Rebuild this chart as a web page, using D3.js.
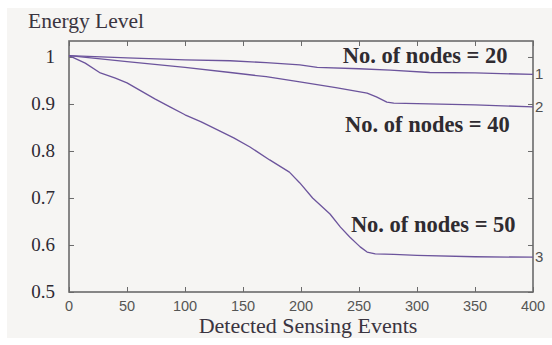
<!DOCTYPE html>
<html>
<head>
<meta charset="utf-8">
<script src="https://cdn.jsdelivr.net/npm/d3@7/dist/d3.min.js"></script>
<style>
  html, body { margin: 0; padding: 0; background: #ffffff; }
  svg { display: block; }
</style>
</head>
<body>
<svg id="chart" width="552" height="345"></svg>
<script>
// Residual energy versus detected sensing events, for three network sizes
const events20 = [0, 50, 100, 139, 170, 199, 214, 250, 277, 311, 350, 400];
const energy20 = [1.003, 0.998, 0.994, 0.992, 0.988, 0.983, 0.978, 0.975, 0.972, 0.967, 0.966, 0.963];

const events40 = [0, 50, 100, 139, 170, 199, 230, 257, 265, 274, 280, 350, 400];
const energy40 = [1.003, 0.99, 0.978, 0.967, 0.958, 0.947, 0.935, 0.923, 0.915, 0.904, 0.902, 0.898, 0.894];

const events50 = [0, 7, 14, 27, 40, 50, 62, 74, 87, 100, 114, 128, 142, 156, 173, 190, 199, 210, 225, 234, 242, 251, 257, 264, 280, 300, 350, 400];
const energy50 = [1.003, 0.995, 0.987, 0.966, 0.955, 0.945, 0.928, 0.911, 0.894, 0.877, 0.862, 0.845, 0.828, 0.8085, 0.781, 0.755, 0.732, 0.7, 0.666, 0.638, 0.617, 0.596, 0.585, 0.581, 0.58, 0.578, 0.575, 0.574];

const xTicks = [0, 50, 100, 150, 200, 250, 300, 350, 400];
const yTicks = [0.5, 0.6, 0.7, 0.8, 0.9, 1];
const yTickLabels = ["0.5", "0.6", "0.7", "0.8", "0.9", "1"];

const seriesTags = ["1", "2", "3"];
const seriesNotes = ["No. of nodes = 20", "No. of nodes = 40", "No. of nodes = 50"];

const svg = d3.select("#chart");
const W = 552, H = 345;
const m = { left: 69, right: 19, top: 41, bottom: 53 };

// page panel
svg.append("rect").attr("x", 7).attr("y", 8).attr("width", W - 7).attr("height", 330)
  .attr("fill", "#f6f5f3");

const x = d3.scaleLinear().domain([0, 400]).range([m.left, W - m.right]);
const y = d3.scaleLinear().domain([0.5, 1.034]).range([H - m.bottom, m.top]);

const axisColor = "#6b6b6b";
const lineColor = "#6c549c";

// ticks pointing inward on all four sides
const tickLen = 5;
svg.append("g").attr("transform", `translate(0,${y(0.5)})`)
  .call(d3.axisBottom(x).tickValues(xTicks).tickSizeInner(-tickLen).tickSizeOuter(0).tickFormat(""))
  .call(g => g.select(".domain").remove())
  .call(g => g.selectAll("line").attr("stroke", axisColor));
svg.append("g").attr("transform", `translate(0,${m.top})`)
  .call(d3.axisTop(x).tickValues(xTicks).tickSizeInner(-tickLen).tickSizeOuter(0).tickFormat(""))
  .call(g => g.select(".domain").remove())
  .call(g => g.selectAll("line").attr("stroke", axisColor));
svg.append("g").attr("transform", `translate(${m.left},0)`)
  .call(d3.axisLeft(y).tickValues(yTicks).tickSizeInner(-tickLen).tickSizeOuter(0).tickFormat(""))
  .call(g => g.select(".domain").remove())
  .call(g => g.selectAll("line").attr("stroke", axisColor));
svg.append("g").attr("transform", `translate(${W - m.right},0)`)
  .call(d3.axisRight(y).tickValues(yTicks).tickSizeInner(-tickLen).tickSizeOuter(0).tickFormat(""))
  .call(g => g.select(".domain").remove())
  .call(g => g.selectAll("line").attr("stroke", axisColor));

// axes box
svg.append("rect")
  .attr("x", x(0)).attr("y", m.top)
  .attr("width", x(400) - x(0)).attr("height", y(0.5) - m.top)
  .attr("fill", "none").attr("stroke", axisColor).attr("stroke-width", 1.6);

// tick labels
svg.append("g").selectAll("text").data(xTicks).join("text")
  .attr("x", d => x(d)).attr("y", y(0.5) + 19)
  .attr("text-anchor", "middle")
  .attr("font-family", "'Liberation Sans', Arial, sans-serif")
  .attr("font-size", 14.5).attr("fill", "#555555")
  .text(d => d);

svg.append("g").selectAll("text").data(yTicks).join("text")
  .attr("x", m.left - 14).attr("y", d => y(d) + 6)
  .attr("text-anchor", "end")
  .attr("font-family", "'Liberation Serif', 'Times New Roman', serif")
  .attr("font-size", 19).attr("fill", "#2e2a33")
  .text((d, i) => yTickLabels[i]);

// axis titles
svg.append("text")
  .attr("x", 28).attr("y", 28)
  .attr("font-family", "'Liberation Serif', 'Times New Roman', serif")
  .attr("font-size", 21.5).attr("fill", "#3a3440")
  .text("Energy Level");

svg.append("text")
  .attr("x", (x(0) + x(400)) / 2 + 7).attr("y", H - 12)
  .attr("text-anchor", "middle")
  .attr("font-family", "'Liberation Serif', 'Times New Roman', serif")
  .attr("font-size", 22).attr("fill", "#3a3440")
  .text("Detected Sensing Events");

// curves
const series = [
  { ev: events20, en: energy20 },
  { ev: events40, en: energy40 },
  { ev: events50, en: energy50 }
];
const line = d3.line().x(d => x(d[0])).y(d => y(d[1]));

series.forEach((s, i) => {
  const pts = s.ev.map((e, k) => [e, s.en[k]]);
  svg.append("path").datum(pts)
    .attr("d", line)
    .attr("fill", "none")
    .attr("stroke", lineColor)
    .attr("stroke-width", 1.3)
    .attr("stroke-linejoin", "round");
  const last = pts[pts.length - 1];
  svg.append("text")
    .attr("x", x(last[0]) + 2).attr("y", y(last[1]) + 5)
    .attr("font-family", "'Liberation Sans', Arial, sans-serif")
    .attr("font-size", 15).attr("fill", "#505050")
    .text(seriesTags[i]);
});

// curve annotations
const noteAnchors = [[236, 0.987], [238, 0.84], [243, 0.628]];
svg.append("g").selectAll("text").data(seriesNotes).join("text")
  .attr("x", (d, i) => x(noteAnchors[i][0]))
  .attr("y", (d, i) => y(noteAnchors[i][1]))
  .attr("font-family", "'Liberation Serif', 'Times New Roman', serif")
  .attr("font-weight", "bold")
  .attr("font-size", 22.5).attr("fill", "#2f2b30")
  .text(d => d);
</script>
</body>
</html>
